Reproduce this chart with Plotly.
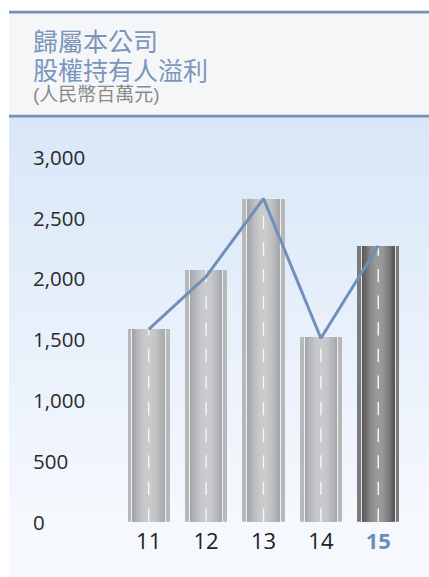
import numpy as np
import plotly.graph_objects as go

# ---- data ----
years = ["11", "12", "13", "14", "15"]
bar_values = [1585, 2070, 2652, 1518, 2268]
line_values = [1580, 2015, 2655, 1508, 2268]
y_ticks = [0, 500, 1000, 1500, 2000, 2500, 3000]
y_tick_labels = ["0", "500", "1,000", "1,500", "2,000", "2,500", "3,000"]
title_lines = ["歸屬本公司", "股權持有人溢利"]
unit_label = "(人民幣百萬元)"
highlight = "15"

W, H = 429, 577


def px(x):
    return x / W


def py(y):
    return 1 - y / H


def hex_to_rgb(h):
    h = h.lstrip("#")
    return tuple(int(h[i:i + 2], 16) for i in (0, 2, 4))


def mix(c1, c2, t):
    a, b = hex_to_rgb(c1), hex_to_rgb(c2)
    return "rgb(%d,%d,%d)" % tuple(round(a[i] + (b[i] - a[i]) * t) for i in range(3))


fig = go.Figure()

# road-like bars: shoulder strip, white edge line, shaded body
is_hl = [y == highlight for y in years]
strip_c = ["#7b7b7b" if h else "#b6b8ba" for h in is_hl]
edge_line_c = ["#e4e4e4" if h else "#f0f0f0" for h in is_hl]
body_edge = ["#585858" if h else "#a4a7aa" for h in is_hl]
body_mid = ["#9a9a9a" if h else "#c8cacc" for h in is_hl]

fig.add_trace(go.Bar(x=years, y=bar_values, width=0.734,
                     marker=dict(color=strip_c, line_width=0), hoverinfo="skip"))
fig.add_trace(go.Bar(x=years, y=bar_values, width=0.600,
                     marker=dict(color=edge_line_c, line_width=0), hoverinfo="skip"))
n_steps = 14
body_w = 0.566
for k in range(n_steps):
    t = k / (n_steps - 1)
    shade = np.sin(t * np.pi / 2)
    cols = [mix(e, m, shade) for e, m in zip(body_edge, body_mid)]
    fig.add_trace(go.Bar(x=years, y=bar_values, width=body_w * (1 - k / n_steps),
                         marker=dict(color=cols, line_width=0), hoverinfo="skip"))

# dashed centre markings, running up from the baseline
for yr, v in zip(years, bar_values):
    fig.add_trace(go.Scatter(x=[yr, yr], y=[0, v], mode="lines",
                             line=dict(color="#f6f6f6", width=1.4, dash="13.3px,13.3px"),
                             hoverinfo="skip"))

# profit trend line
fig.add_trace(go.Scatter(x=years, y=line_values, mode="lines",
                         line=dict(color="#7090bb", width=3), hoverinfo="skip"))

# ---- background panels ----
shapes = []
panel_x0, panel_x1 = px(9), px(429)
top_band0, top_band1 = 117, 577
n_bands = 60
c_top, c_bot = "#d8e7f8", "#f5f8fd"
for i in range(n_bands):
    y0 = top_band0 + (top_band1 - top_band0) * i / n_bands
    y1 = top_band0 + (top_band1 - top_band0) * (i + 1) / n_bands
    shapes.append(dict(type="rect", xref="paper", yref="paper", layer="below",
                       x0=panel_x0, x1=panel_x1, y0=py(y1 + 0.5), y1=py(y0),
                       fillcolor=mix(c_top, c_bot, min(1, i / (n_bands * 0.85))),
                       line_width=0))
shapes.append(dict(type="rect", xref="paper", yref="paper", layer="below",
                   x0=panel_x0, x1=panel_x1, y0=py(115), y1=py(13),
                   fillcolor="#f5f6f8", line_width=0))
for ya, yb in [(10.7, 13.4), (114.8, 117.4)]:
    shapes.append(dict(type="rect", xref="paper", yref="paper", layer="below",
                       x0=panel_x0, x1=panel_x1, y0=py(yb), y1=py(ya),
                       fillcolor="#7690b8", line_width=0))

# ---- text ----
annotations = []
cjk = "Liberation Sans, Noto Sans CJK TC, Noto Sans CJK SC, sans-serif"
title = "<br>".join("<span style='font-size:25px'>%s</span>" % t for t in title_lines)
annotations.append(dict(text=title, xref="paper", yref="paper", x=px(31), y=py(56.5),
                        xanchor="left", yanchor="middle", align="left", showarrow=False,
                        font=dict(family=cjk, size=22, color="#7b95bf")))
annotations.append(dict(text=unit_label, xref="paper", yref="paper", x=px(31), y=py(94.5),
                        xanchor="left", yanchor="middle", showarrow=False,
                        font=dict(family=cjk, size=19, color="#8a8a8a")))
for v, lab in zip(y_ticks, y_tick_labels):
    annotations.append(dict(text=lab, xref="paper", yref="y", x=px(31), y=v,
                            xanchor="left", yanchor="middle", showarrow=False,
                            font=dict(family="Open Sans", size=20.5, color="#2a2a2a")))

x_ticktext = [("<b><span style='color:#6f8dba'>%s</span></b>" % y) if y == highlight else y
              for y in years]

fig.update_layout(
    width=W, height=H, autosize=False,
    margin=dict(l=0, r=0, t=0, b=0),
    paper_bgcolor="white", plot_bgcolor="rgba(0,0,0,0)",
    barmode="overlay", bargap=0, showlegend=False,
    shapes=shapes, annotations=annotations,
    xaxis=dict(domain=[px(120), px(407)], range=[-0.5, 4.5], type="category",
               tickvals=years, ticktext=x_ticktext, showgrid=False, zeroline=False,
               showline=False, ticks="", ticklabelstandoff=4,
               tickfont=dict(family="Open Sans", size=22, color="#222222")),
    yaxis=dict(domain=[py(521.7), py(156.7)], range=[0, 3000], showgrid=False,
               zeroline=False, showline=False, showticklabels=False, ticks=""),
)

fig.write_html("out.html")
